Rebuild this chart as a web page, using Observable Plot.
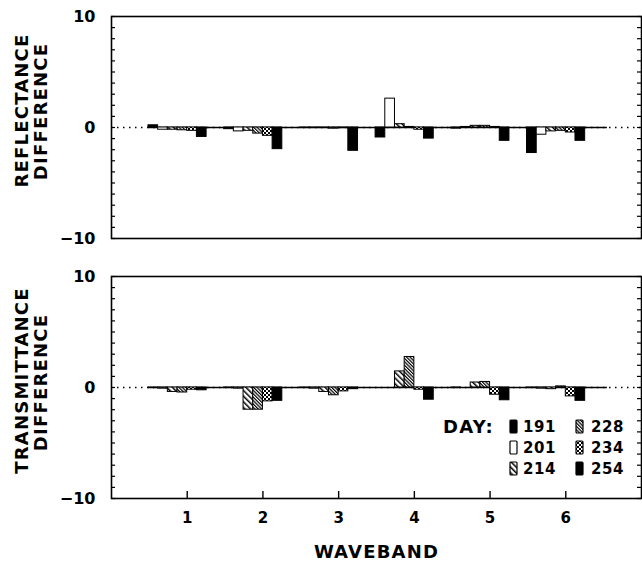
<!DOCTYPE html>
<html><head><meta charset="utf-8">
<script src="https://cdn.jsdelivr.net/npm/d3@7"></script>
<script src="https://cdn.jsdelivr.net/npm/@observablehq/plot@0.6"></script>
<style>
body{margin:0;background:#fff;}
#wrap{position:relative;width:642px;height:575px;font-family:"DejaVu Sans",sans-serif;font-weight:bold;background:#fff;}
#wrap svg{display:block;}
#wrap g[aria-label="text"] text{letter-spacing:1.2px;}
.lg{position:absolute;font-size:15px;line-height:15px;letter-spacing:0.6px;color:#000;white-space:nowrap;}
.sw{position:absolute;}
</style></head><body>
<svg width="0" height="0" style="position:absolute">
 <defs>
  <pattern id="p214" patternUnits="userSpaceOnUse" width="4" height="4" patternTransform="rotate(-45)">
    <rect width="4" height="4" fill="#fff"/><rect width="1.5" height="4" fill="#000"/>
  </pattern>
  <pattern id="p228" patternUnits="userSpaceOnUse" width="2.4" height="4" patternTransform="rotate(-45)">
    <rect width="2.4" height="4" fill="#fff"/><rect width="1.2" height="4" fill="#000"/>
  </pattern>
  <pattern id="p234" patternUnits="userSpaceOnUse" width="4" height="4">
    <rect width="4" height="4" fill="#fff"/><rect width="2" height="2" fill="#000"/><rect x="2" y="2" width="2" height="2" fill="#000"/>
  </pattern>
 </defs>
</svg>
<div id="wrap"></div>
<script>
// ---- data ----
const wavebands = [1, 2, 3, 4, 5, 6];
const days = [191, 201, 214, 228, 234, 254];
// reflectance difference, per day, wavebands 1..6
const refl191 = [0.2, -0.15, -0.05, -0.9, -0.1, -2.3];
const refl201 = [-0.2, -0.35, -0.05, 2.6, 0.05, -0.65];
const refl214 = [-0.2, -0.3, -0.05, 0.3, 0.15, -0.35];
const refl228 = [-0.25, -0.55, -0.1, 0.05, 0.15, -0.3];
const refl234 = [-0.3, -0.75, -0.05, -0.2, 0.05, -0.45];
const refl254 = [-0.85, -1.95, -2.1, -1.0, -1.2, -1.2];
// transmittance difference, per day, wavebands 1..6
const trans191 = [-0.05, -0.05, -0.05, 0, -0.05, -0.05];
const trans201 = [-0.1, -0.1, -0.1, 0, 0, -0.1];
const trans214 = [-0.4, -2.0, -0.4, 1.45, 0.45, -0.15];
const trans228 = [-0.45, -2.0, -0.7, 2.75, 0.5, 0.1];
const trans234 = [-0.2, -1.25, -0.35, -0.2, -0.65, -0.8];
const trans254 = [-0.25, -1.2, -0.15, -1.1, -1.15, -1.2];
const yTickLabels = [-10, 0, 10];
const yMinorTicks = d3.range(-10, 11);

const reflSeries = [refl191, refl201, refl214, refl228, refl234, refl254];
const transSeries = [trans191, trans201, trans214, trans228, trans234, trans254];
const fills = ["#000", "#fff", "url(#p214)", "url(#p228)", "url(#p234)", "#000"];
const w = 0.128; // bar width in waveband units

function table(series) {
  const rows = [];
  series.forEach((vals, di) => vals.forEach((v, wi) => rows.push({wb: wavebands[wi], di, day: days[di], v})));
  return rows;
}
const lo = d3.min(wavebands) - 4 * w, hi = d3.max(wavebands) + 0.55;
const font = '"DejaVu Sans", sans-serif';
const W = 642, ML = 111, MR = 1;
const innerW = W - ML - MR;
const xDomain = [0, 7], yDomain = [-10, 10];

function panel(series, {height, marginTop, marginBottom, labels, dys, bottomAxis}) {
  const rows = table(series);
  const innerH = height - marginTop - marginBottom;
  // tick lengths expressed in scale units (4px horizontally, 7px vertically)
  const tx = 4 * (xDomain[1] - xDomain[0]) / innerW;
  const ty = 7 * (yDomain[1] - yDomain[0]) / innerH;
  const marks = [
    Plot.ruleY([0], {strokeDasharray: "1.5,4.5", strokeWidth: 1.5}),
    Plot.ruleY([0], {x1: lo, x2: hi, strokeWidth: 1.5}),
    Plot.rect(rows, {x1: d => d.wb + (d.di - 4) * w, x2: d => d.wb + (d.di - 3) * w, y1: 0, y2: "v",
      fill: d => fills[d.di], stroke: "#000", strokeWidth: 1}),
    Plot.ruleY(yMinorTicks, {y: d => d, x1: xDomain[0], x2: xDomain[0] + tx, strokeWidth: 1.2}),
    Plot.ruleY(yMinorTicks, {y: d => d, x1: xDomain[1] - tx, x2: xDomain[1], strokeWidth: 1.2}),
    Plot.frame({strokeWidth: 1.6}),
    Plot.axisY({anchor: "left", ticks: yTickLabels, tickSize: 0, tickPadding: 16, fontSize: 16, fontWeight: "bold", label: null}),
    Plot.text([labels[0]], {text: d => d, frameAnchor: "left", textAnchor: "middle", dx: -89, dy: dys[0], rotate: -90, fontSize: 18, fontWeight: "bold"}),
    Plot.text([labels[1]], {text: d => d, frameAnchor: "left", textAnchor: "middle", dx: -70, dy: dys[1], rotate: -90, fontSize: 18, fontWeight: "bold"})
  ];
  if (bottomAxis) {
    marks.push(
      Plot.ruleX(wavebands, {x: d => d, y1: yDomain[0], y2: yDomain[0] + ty, strokeWidth: 1.4}),
      Plot.axisX({anchor: "bottom", ticks: wavebands, tickSize: 0, tickPadding: 14, tickFormat: d => String(d), fontSize: 15, fontWeight: "bold", label: null}),
      Plot.text(["WAVEBAND"], {text: d => d, frameAnchor: "bottom", dy: 59, fontSize: 18, fontWeight: "bold"})
    );
  }
  return Plot.plot({
    width: W, height, marginLeft: ML, marginRight: MR, marginTop, marginBottom,
    x: {domain: xDomain, axis: bottomAxis ? undefined : null},
    y: {domain: yDomain},
    color: {type: "identity"},
    style: {fontFamily: font, fontWeight: "bold", background: "#fff", color: "#000", overflow: "visible"},
    marks
  });
}

const wrap = document.getElementById("wrap");
wrap.append(panel(reflSeries, {height: 250, marginTop: 16, marginBottom: 12,
  labels: ["REFLECTANCE", "DIFFERENCE"], dys: [-17, -16], bottomAxis: false}));
wrap.append(panel(transSeries, {height: 325, marginTop: 26, marginBottom: 77,
  labels: ["TRANSMITTANCE", "DIFFERENCE"], dys: [-7, -5], bottomAxis: true}));

// ---- legend ----
const dayLabel = document.createElement("div");
dayLabel.className = "lg";
dayLabel.style.cssText = "left:443px;top:418px;font-size:18px;line-height:18px;letter-spacing:1.3px;";
dayLabel.textContent = "DAY:";
wrap.append(dayLabel);
const rowY = [427, 448, 469], iconX = [510, 576], textX = [523, 591];
days.forEach((day, i) => {
  const col = Math.floor(i / 3), row = i % 3;
  const sw = document.createElementNS("http://www.w3.org/2000/svg", "svg");
  sw.setAttribute("class", "sw");
  sw.setAttribute("width", 10); sw.setAttribute("height", 16);
  sw.style.left = (iconX[col] - 1) + "px"; sw.style.top = (rowY[row] - 8) + "px";
  const r = document.createElementNS("http://www.w3.org/2000/svg", "rect");
  r.setAttribute("x", 1); r.setAttribute("y", 1); r.setAttribute("width", 7); r.setAttribute("height", 13);
  r.setAttribute("rx", 1);
  r.setAttribute("fill", fills[i]); r.setAttribute("stroke", "#000"); r.setAttribute("stroke-width", 1.2);
  sw.append(r);
  wrap.append(sw);
  const t = document.createElement("div");
  t.className = "lg";
  t.style.left = textX[col] + "px"; t.style.top = (rowY[row] - 7.5) + "px";
  t.textContent = day;
  wrap.append(t);
});
</script>
</body></html>
